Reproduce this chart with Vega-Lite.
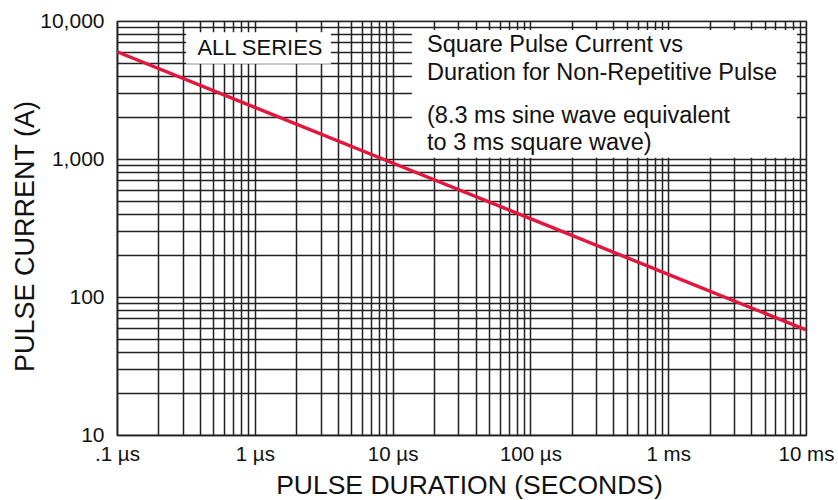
{
  "$schema": "https://vega.github.io/schema/vega-lite/v6.json",
  "width": 689,
  "height": 414,
  "autosize": {"type": "none"},
  "padding": {"left": 117, "top": 21, "right": 32, "bottom": 65},
  "background": "white",
  "config": {
    "font": "Liberation Sans",
    "view": {"stroke": "#444", "strokeWidth": 1.2},
    "axis": {
      "labelFont": "Liberation Sans",
      "titleFont": "Liberation Sans",
      "labelColor": "#111",
      "titleColor": "#111",
      "titleFontWeight": "normal",
      "gridColor": "#222",
      "gridWidth": 1.5,
      "gridOpacity": 1,
      "domainColor": "#222",
      "domainWidth": 1.5,
      "ticks": false,
      "tickSize": 0,
      "labelOverlap": false,
      "labelFlush": false,
      "labelBound": false
    }
  },
  "encoding": {
    "x": {
      "field": "t", "type": "quantitative",
      "scale": {"type": "log", "domain": [1e-7, 1e-2], "nice": false},
      "axis": {
        "title": "PULSE DURATION (SECONDS)",
        "titleFontSize": 26.5,
        "titleX": 352,
        "titleY": 58,
        "titleBaseline": "alphabetic",
        "labelFontSize": 20.5,
        "labelBaseline": "alphabetic",
        "labelPadding": 25,
        "values": [1e-7,2e-7,3e-7,4e-7,5e-7,6e-7,7e-7,8e-7,9e-7,1e-6,2e-6,3e-6,4e-6,5e-6,6e-6,7e-6,8e-6,9e-6,1e-5,2e-5,3e-5,4e-5,5e-5,6e-5,7e-5,8e-5,9e-5,1e-4,2e-4,3e-4,4e-4,5e-4,6e-4,7e-4,8e-4,9e-4,1e-3,2e-3,3e-3,4e-3,5e-3,6e-3,7e-3,8e-3,9e-3,1e-2],
        "labelExpr": "abs(log(datum.value)/LN10 - round(log(datum.value)/LN10)) < 0.01 ? ['.1 µs','1 µs','10 µs','100 µs','1 ms','10 ms'][round(log(datum.value)/LN10) + 7] : ''"
      }
    },
    "y": {
      "field": "i", "type": "quantitative",
      "scale": {"type": "log", "domain": [10, 10000], "nice": false},
      "axis": {
        "title": "PULSE CURRENT (A)",
        "titleFontSize": 27,
        "titleX": -84,
        "titleY": 215,
        "titleAngle": 270,
        "titleBaseline": "alphabetic",
        "labelFontSize": 21,
        "labelPadding": 13,
        "values": [10,20,30,40,50,60,70,80,90,100,200,300,400,500,600,700,800,900,1000,2000,3000,4000,5000,6000,7000,8000,9000,10000],
        "labelExpr": "abs(log(datum.value)/LN10 - round(log(datum.value)/LN10)) < 0.01 ? format(datum.value, ',') : ''"
      }
    }
  },
  "layer": [
    {
      "data": {"values": [
        {"t": 3.17e-7, "t2": 3.57e-6, "i": 8300, "i2": 4900},
        {"t": 1.38e-5, "t2": 8.6e-3, "i": 8600, "i2": 1020}
      ]},
      "mark": {"type": "rect", "fill": "white", "stroke": null},
      "encoding": {
        "x2": {"field": "t2"},
        "y2": {"field": "i2"}
      }
    },
    {
      "data": {"values": [
        {"t": 1e-7, "i": 5990},
        {"t": 1e-6, "i": 2367},
        {"t": 1e-5, "i": 935},
        {"t": 1e-4, "i": 369.5},
        {"t": 1e-3, "i": 146},
        {"t": 1e-2, "i": 57.7}
      ]},
      "mark": {"type": "line", "color": "#e3173d", "strokeWidth": 3.4, "clip": true}
    },
    {
      "data": {"values": [
        {"t": 1.09e-6, "i": 5675, "label": "ALL SERIES"}
      ]},
      "mark": {"type": "text", "fontSize": 22, "align": "center", "baseline": "alphabetic", "color": "#111", "font": "Liberation Sans"},
      "encoding": {"text": {"field": "label"}}
    },
    {
      "data": {"values": [
        {"t": 1.778e-5, "i": 5990, "label": "Square Pulse Current vs"},
        {"t": 1.778e-5, "i": 3736, "label": "Duration for Non-Repetitive Pulse"},
        {"t": 1.778e-5, "i": 1824, "label": "(8.3 ms sine wave equivalent"},
        {"t": 1.778e-5, "i": 1162, "label": "to 3 ms square wave)"}
      ]},
      "mark": {"type": "text", "fontSize": 23.5, "align": "left", "baseline": "alphabetic", "color": "#111", "font": "Liberation Sans"},
      "encoding": {"text": {"field": "label"}}
    }
  ]
}
